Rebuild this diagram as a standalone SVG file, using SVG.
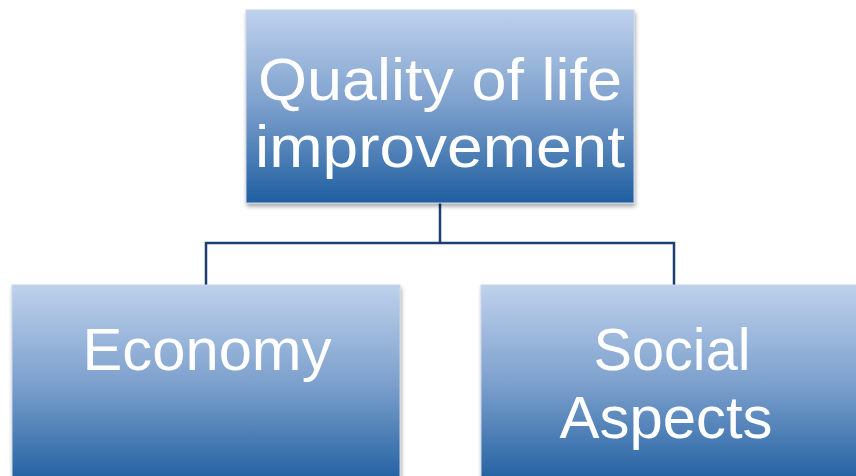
<svg xmlns="http://www.w3.org/2000/svg" width="856" height="476" viewBox="0 0 856 476">
<defs>
<linearGradient id="g" x1="0" y1="0" x2="0" y2="1">
<stop offset="0" stop-color="#bfd1ec"/>
<stop offset="0.5" stop-color="#7b9fcc"/>
<stop offset="1" stop-color="#1f5e9f"/>
</linearGradient>
<filter id="sh" x="-5%" y="-5%" width="112%" height="115%">
<feGaussianBlur in="SourceAlpha" stdDeviation="2"/>
<feOffset dx="1" dy="3"/>
<feComponentTransfer><feFuncA type="linear" slope="0.35"/></feComponentTransfer>
<feMerge><feMergeNode/><feMergeNode in="SourceGraphic"/></feMerge>
</filter>
</defs>
<style>
.box{fill:url(#g);stroke:#c9d6e8;stroke-width:1;filter:url(#sh)}
.t{font-family:"Liberation Sans",Arial,sans-serif;fill:#ffffff;text-anchor:middle}
.c{fill:none;stroke:#1b3f6e;stroke-width:2.5}
</style>
<rect width="856" height="476" fill="#ffffff"/>
<g id="connectors">
<path class="c" d="M440 203 V243 M206 285 V243 H674 V285"/>
</g>
<g id="node-quality">
<rect class="box" x="246" y="10" width="388" height="193"/>
<text class="t" x="440" y="100" font-size="59" textLength="364" lengthAdjust="spacingAndGlyphs">Quality of life</text>
<text class="t" x="440" y="167" font-size="59" textLength="370" lengthAdjust="spacingAndGlyphs">improvement</text>
</g>
<g id="node-economy">
<rect class="box" x="12" y="285" width="388" height="200"/>
<text class="t" x="207" y="370" font-size="60" textLength="249" lengthAdjust="spacingAndGlyphs">Economy</text>
</g>
<g id="node-social">
<rect class="box" x="481" y="285" width="388" height="200"/>
<text class="t" x="672" y="370" font-size="60" textLength="157" lengthAdjust="spacingAndGlyphs">Social</text>
<text class="t" x="666" y="438" font-size="60" textLength="213" lengthAdjust="spacingAndGlyphs">Aspects</text>
</g>
</svg>
